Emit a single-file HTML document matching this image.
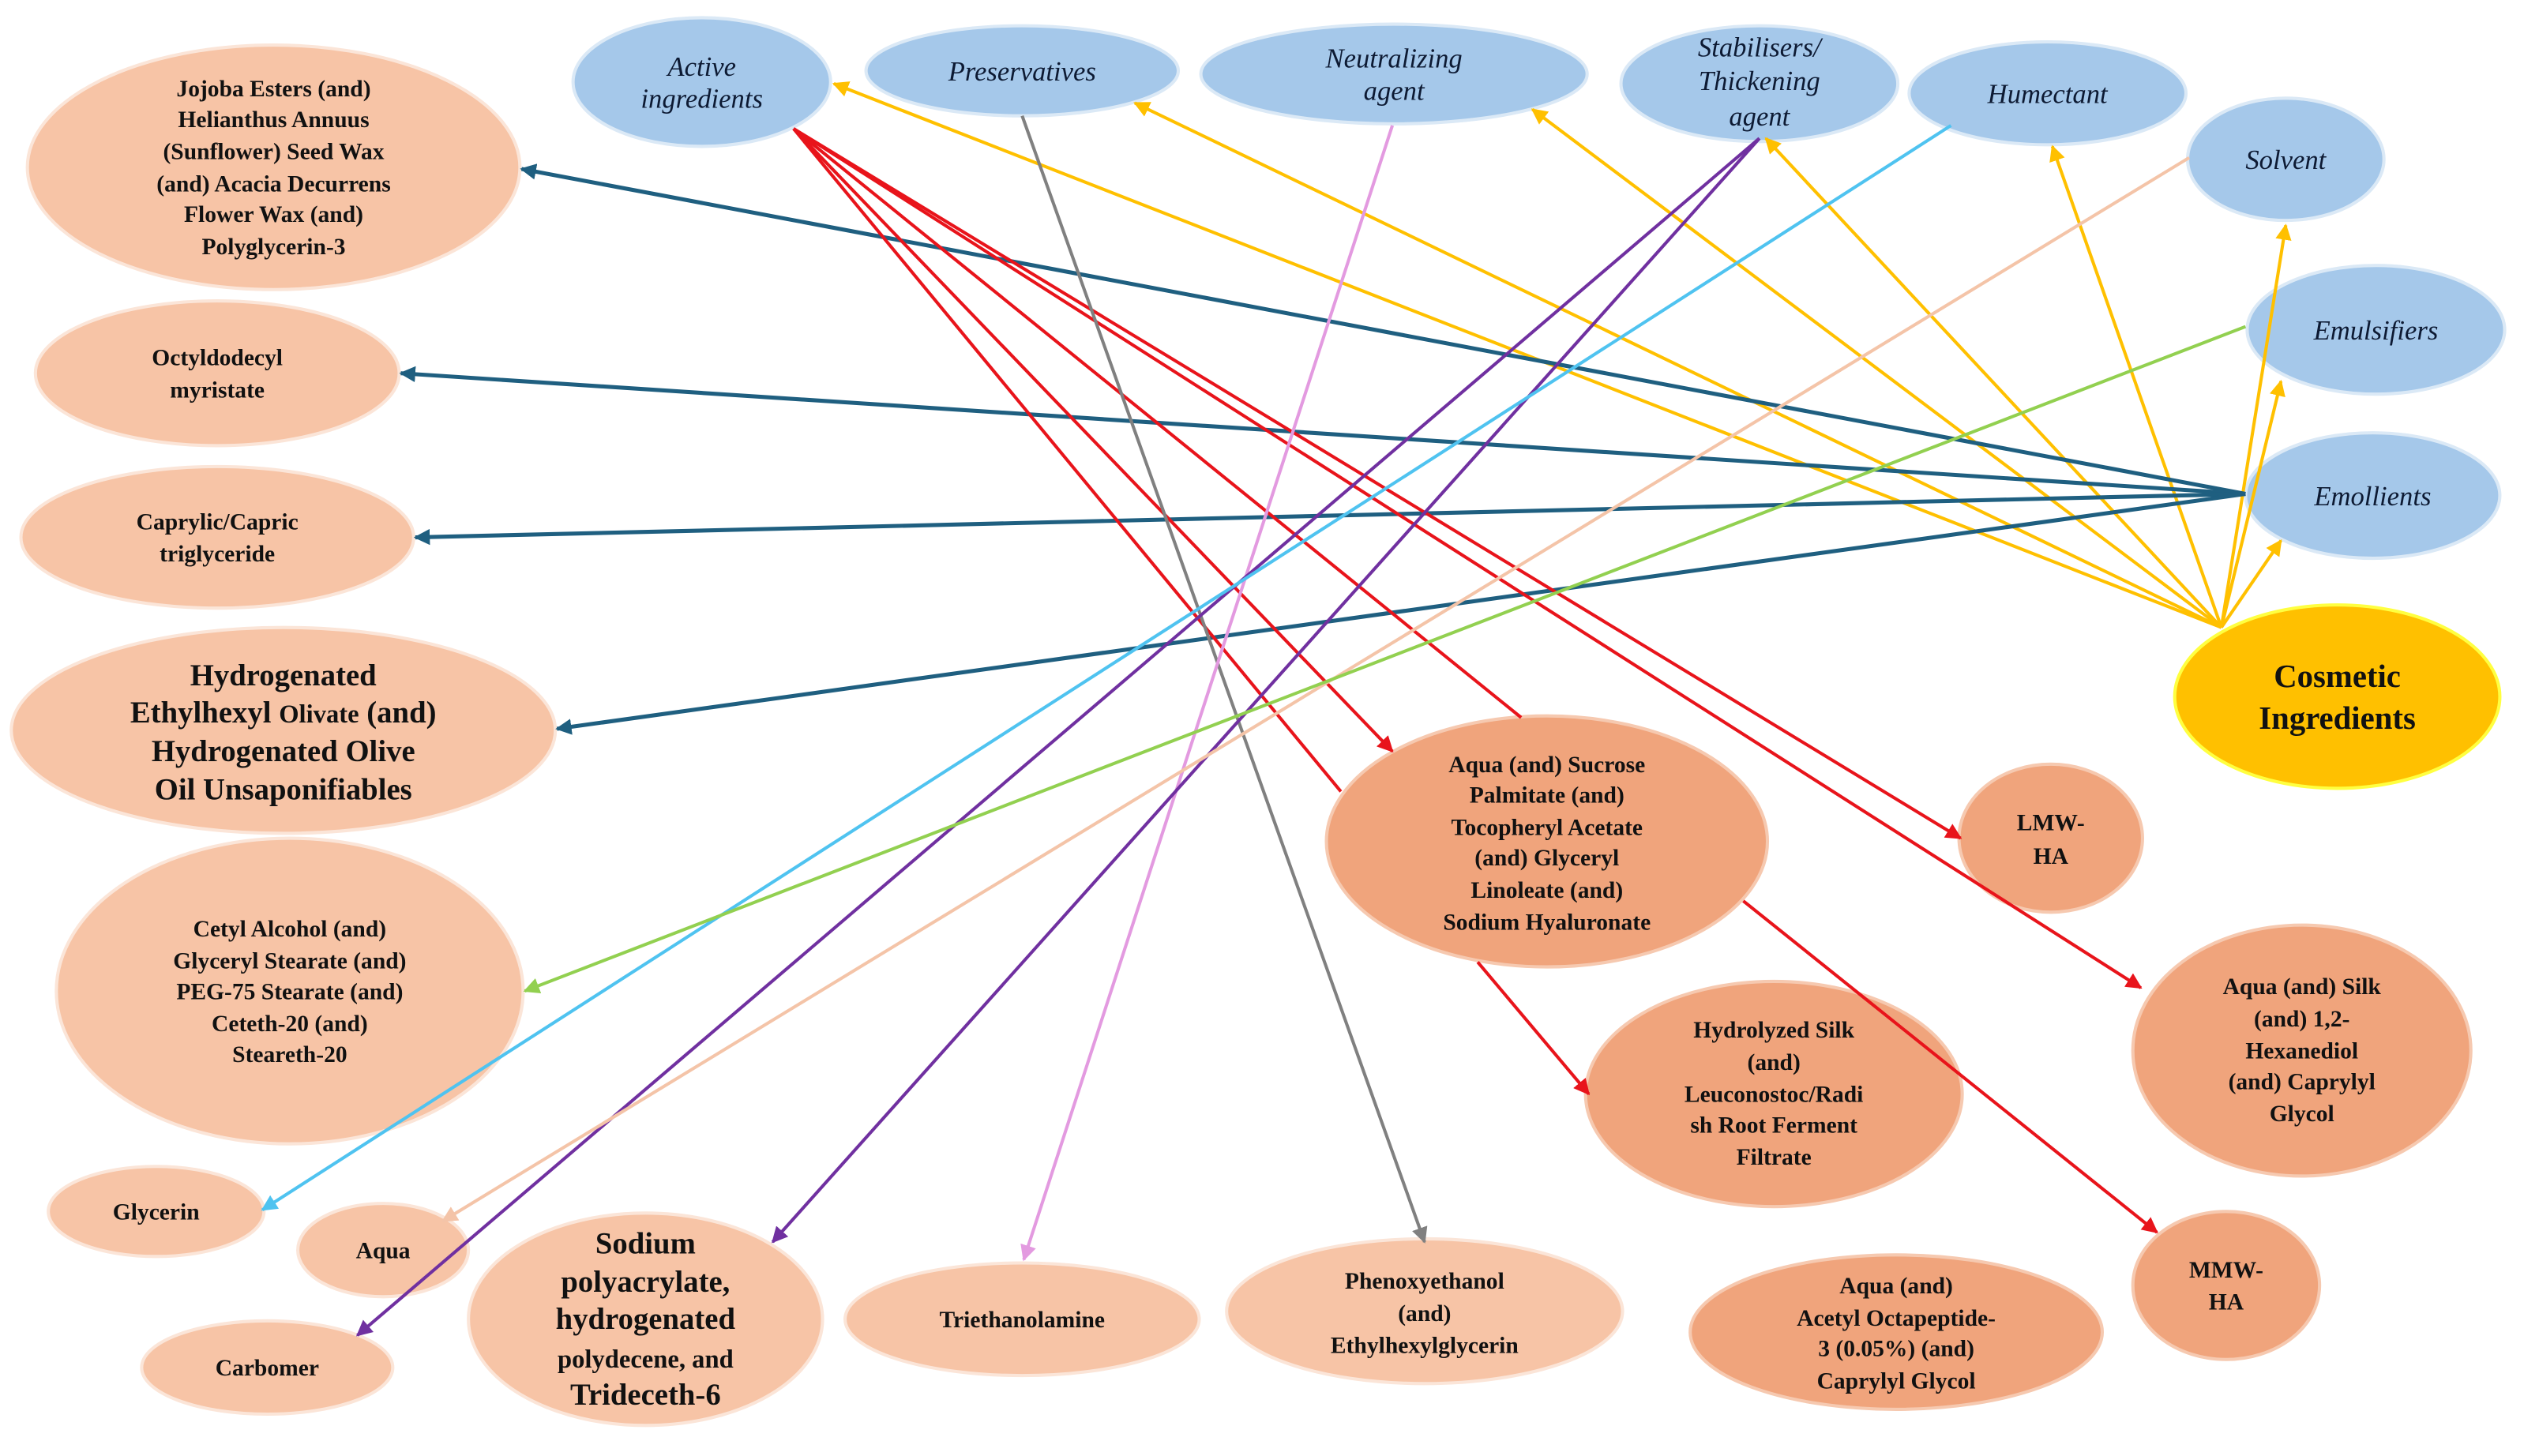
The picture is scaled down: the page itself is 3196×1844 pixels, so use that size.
<!DOCTYPE html>
<html><head><meta charset="utf-8">
<style>
html,body{margin:0;padding:0;background:#fff;}
svg{display:block;}
.t{font-family:"Liberation Serif",serif;font-weight:bold;fill:#111;text-anchor:middle;}
.b{font-family:"Liberation Serif",serif;font-style:italic;fill:#0d1a33;text-anchor:middle;}
</style></head><body>
<svg width="3196" height="1844" viewBox="0 0 1568 905" preserveAspectRatio="none" xmlns="http://www.w3.org/2000/svg">
<defs>
<marker id="mY" viewBox="0 0 10 10" refX="9" refY="5" markerWidth="5" markerHeight="5" orient="auto"><path d="M0,0L10,5L0,10z" fill="#ffc000"/></marker>
<marker id="mT" viewBox="0 0 10 10" refX="9" refY="5" markerWidth="4" markerHeight="4" orient="auto"><path d="M0,0L10,5L0,10z" fill="#1f5f80"/></marker>
<marker id="mR" viewBox="0 0 10 10" refX="9" refY="5" markerWidth="5" markerHeight="5" orient="auto"><path d="M0,0L10,5L0,10z" fill="#e8141b"/></marker>
<marker id="mG" viewBox="0 0 10 10" refX="9" refY="5" markerWidth="5" markerHeight="5" orient="auto"><path d="M0,0L10,5L0,10z" fill="#808080"/></marker>
<marker id="mP" viewBox="0 0 10 10" refX="9" refY="5" markerWidth="5" markerHeight="5" orient="auto"><path d="M0,0L10,5L0,10z" fill="#e39ae0"/></marker>
<marker id="mV" viewBox="0 0 10 10" refX="9" refY="5" markerWidth="5" markerHeight="5" orient="auto"><path d="M0,0L10,5L0,10z" fill="#7030a0"/></marker>
<marker id="mB" viewBox="0 0 10 10" refX="9" refY="5" markerWidth="5" markerHeight="5" orient="auto"><path d="M0,0L10,5L0,10z" fill="#4fc3f0"/></marker>
<marker id="mS" viewBox="0 0 10 10" refX="9" refY="5" markerWidth="5" markerHeight="5" orient="auto"><path d="M0,0L10,5L0,10z" fill="#f4c4a8"/></marker>
<marker id="mN" viewBox="0 0 10 10" refX="9" refY="5" markerWidth="5" markerHeight="5" orient="auto"><path d="M0,0L10,5L0,10z" fill="#92d050"/></marker>
</defs>

<!-- nodes -->
<g stroke="#fbe5d8" stroke-width="2" fill="#f7c4a6">
<ellipse cx="170" cy="104" rx="153" ry="76"/>
<ellipse cx="135" cy="232" rx="113" ry="45"/>
<ellipse cx="135" cy="334" rx="122" ry="44"/>
<ellipse cx="176" cy="454" rx="169" ry="64"/>
<ellipse cx="180" cy="616" rx="145" ry="95"/>
<ellipse cx="97" cy="753" rx="67" ry="28"/>
<ellipse cx="238" cy="777" rx="53" ry="29"/>
<ellipse cx="166" cy="850" rx="78" ry="29"/>
<ellipse cx="401" cy="820" rx="110" ry="66"/>
<ellipse cx="635" cy="820" rx="110" ry="35"/>
<ellipse cx="885" cy="815" rx="123" ry="45"/>
</g>
<g stroke="#f6c9b0" stroke-width="2" fill="#f0a47c">
<ellipse cx="1178" cy="828" rx="128" ry="48"/>
<ellipse cx="961" cy="523" rx="137" ry="78"/>
<ellipse cx="1102" cy="680" rx="117" ry="70"/>
<ellipse cx="1274" cy="521" rx="57" ry="46"/>
<ellipse cx="1430" cy="653" rx="105" ry="78"/>
<ellipse cx="1383" cy="799" rx="58" ry="46"/>
</g>
<g stroke="#dbe9f6" stroke-width="2" fill="#a5c8ea">
<ellipse cx="436" cy="51" rx="80" ry="40"/>
<ellipse cx="635" cy="44" rx="97" ry="28"/>
<ellipse cx="866" cy="46" rx="120" ry="31"/>
<ellipse cx="1093" cy="52" rx="86" ry="36"/>
<ellipse cx="1272" cy="58" rx="86" ry="32"/>
<ellipse cx="1420" cy="99" rx="61" ry="38"/>
<ellipse cx="1476" cy="205" rx="80" ry="40"/>
<ellipse cx="1474" cy="308" rx="79" ry="39"/>
</g>
<ellipse cx="1452" cy="433" rx="101" ry="57" fill="#ffc000" stroke="#ffff40" stroke-width="2"/>

<!-- connectors -->
<g stroke="#ffc000" stroke-width="2" fill="none">
<line x1="1380" y1="390" x2="518" y2="52" marker-end="url(#mY)"/>
<line x1="1380" y1="390" x2="705" y2="64" marker-end="url(#mY)"/>
<line x1="1380" y1="390" x2="952" y2="68" marker-end="url(#mY)"/>
<line x1="1380" y1="390" x2="1097" y2="86" marker-end="url(#mY)"/>
<line x1="1380" y1="390" x2="1275" y2="91" marker-end="url(#mY)"/>
<line x1="1380" y1="390" x2="1420" y2="140" marker-end="url(#mY)"/>
<line x1="1380" y1="390" x2="1417" y2="237" marker-end="url(#mY)"/>
<line x1="1380" y1="390" x2="1417" y2="336" marker-end="url(#mY)"/>
</g>
<g stroke="#1f5f80" stroke-width="2.5" fill="none">
<line x1="1395" y1="307" x2="324" y2="105" marker-end="url(#mT)"/>
<line x1="1395" y1="307" x2="249" y2="232" marker-end="url(#mT)"/>
<line x1="1395" y1="307" x2="258" y2="334" marker-end="url(#mT)"/>
<line x1="1395" y1="307" x2="346" y2="453" marker-end="url(#mT)"/>
</g>
<g stroke="#e8141b" stroke-width="2" fill="none">
<line x1="493" y1="80" x2="865" y2="467" marker-end="url(#mR)"/>
<line x1="493" y1="80" x2="833" y2="492"/>
<line x1="918" y1="598" x2="987" y2="680" marker-end="url(#mR)"/>
<line x1="493" y1="80" x2="945" y2="446"/>
<line x1="1083" y1="560" x2="1340" y2="766" marker-end="url(#mR)"/>
<line x1="493" y1="80" x2="1218" y2="521" marker-end="url(#mR)"/>
<line x1="493" y1="80" x2="1330" y2="614" marker-end="url(#mR)"/>
</g>
<line x1="635" y1="72" x2="885" y2="772" stroke="#808080" stroke-width="2" marker-end="url(#mG)"/>
<line x1="865" y1="78" x2="636" y2="783" stroke="#e39ae0" stroke-width="2" marker-end="url(#mP)"/>
<line x1="1093" y1="86" x2="222" y2="830" stroke="#7030a0" stroke-width="2" marker-end="url(#mV)"/>
<line x1="1093" y1="86" x2="480" y2="772" stroke="#7030a0" stroke-width="2" marker-end="url(#mV)"/>
<line x1="1212" y1="78" x2="163" y2="752" stroke="#4fc3f0" stroke-width="2" marker-end="url(#mB)"/>
<line x1="1360" y1="98" x2="275" y2="759" stroke="#f4c4a8" stroke-width="2" marker-end="url(#mS)"/>
<line x1="1395" y1="203" x2="326" y2="616" stroke="#92d050" stroke-width="2" marker-end="url(#mN)"/>

<!-- text -->
<g class="t" font-size="14.5">
<text x="170" y="60">Jojoba Esters (and)</text>
<text x="170" y="79">Helianthus Annuus</text>
<text x="170" y="99">(Sunflower) Seed Wax</text>
<text x="170" y="119">(and) Acacia Decurrens</text>
<text x="170" y="138">Flower Wax (and)</text>
<text x="170" y="158">Polyglycerin-3</text>
<text x="135" y="227">Octyldodecyl</text>
<text x="135" y="247">myristate</text>
<text x="135" y="329">Caprylic/Capric</text>
<text x="135" y="349">triglyceride</text>
<text x="176" y="426" font-size="19">Hydrogenated</text>
<text x="176" y="449" font-size="19">Ethylhexyl <tspan font-size="16">Olivate</tspan> (and)</text>
<text x="176" y="473" font-size="19">Hydrogenated Olive</text>
<text x="176" y="497" font-size="19">Oil Unsaponifiables</text>
<text x="180" y="582">Cetyl Alcohol (and)</text>
<text x="180" y="602">Glyceryl Stearate (and)</text>
<text x="180" y="621">PEG-75 Stearate (and)</text>
<text x="180" y="641">Ceteth-20 (and)</text>
<text x="180" y="660">Steareth-20</text>
<text x="97" y="758">Glycerin</text>
<text x="238" y="782">Aqua</text>
<text x="166" y="855">Carbomer</text>
<text x="401" y="779" font-size="19">Sodium</text>
<text x="401" y="803" font-size="19">polyacrylate,</text>
<text x="401" y="826" font-size="19">hydrogenated</text>
<text x="401" y="850" font-size="16">polydecene, and</text>
<text x="401" y="873" font-size="19">Trideceth-6</text>
<text x="635" y="825">Triethanolamine</text>
<text x="885" y="801">Phenoxyethanol</text>
<text x="885" y="821">(and)</text>
<text x="885" y="841">Ethylhexylglycerin</text>
<text x="1178" y="804">Aqua (and)</text>
<text x="1178" y="824">Acetyl Octapeptide-</text>
<text x="1178" y="843">3 (0.05%) (and)</text>
<text x="1178" y="863">Caprylyl Glycol</text>
<text x="961" y="480">Aqua (and) Sucrose</text>
<text x="961" y="499">Palmitate  (and)</text>
<text x="961" y="519">Tocopheryl Acetate</text>
<text x="961" y="538">(and) Glyceryl</text>
<text x="961" y="558">Linoleate (and)</text>
<text x="961" y="578">Sodium Hyaluronate</text>
<text x="1102" y="645">Hydrolyzed Silk</text>
<text x="1102" y="665">(and)</text>
<text x="1102" y="685">Leuconostoc/Radi</text>
<text x="1102" y="704">sh Root Ferment</text>
<text x="1102" y="724">Filtrate</text>
<text x="1274" y="516">LMW-</text>
<text x="1274" y="537">HA</text>
<text x="1430" y="618">Aqua (and) Silk</text>
<text x="1430" y="638">(and) 1,2-</text>
<text x="1430" y="658">Hexanediol</text>
<text x="1430" y="677">(and) Caprylyl</text>
<text x="1430" y="697">Glycol</text>
<text x="1383" y="794">MMW-</text>
<text x="1383" y="814">HA</text>
<text x="1452" y="427" font-size="20">Cosmetic</text>
<text x="1452" y="453" font-size="20">Ingredients</text>
</g>
<g class="b" font-size="17">
<text x="436" y="47">Active</text>
<text x="436" y="67">ingredients</text>
<text x="635" y="50">Preservatives</text>
<text x="866" y="42">Neutralizing</text>
<text x="866" y="62">agent</text>
<text x="1093" y="35">Stabilisers/</text>
<text x="1093" y="56">Thickening</text>
<text x="1093" y="78">agent</text>
<text x="1272" y="64">Humectant</text>
<text x="1420" y="105">Solvent</text>
<text x="1476" y="211">Emulsifiers</text>
<text x="1474" y="314">Emollients</text>
</g>
</svg>
</body></html>
